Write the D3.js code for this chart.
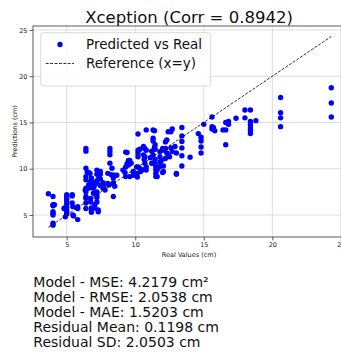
<!DOCTYPE html>
<html>
<head>
<meta charset="utf-8">
<script src="https://cdn.jsdelivr.net/npm/d3@7"></script>
<style>
  html, body { margin: 0; padding: 0; background: #fff; }
  svg { display: block; font-family: "DejaVu Sans", sans-serif; }
</style>
</head>
<body>
<svg id="chart" width="341" height="352"></svg>
<script>
// Real (measured) values, cm
const realValues = [
  3.66, 4.0, 4.0, 4.1, 4.0, 4.0, 4.0, 4.0, 4.0, 4.0,
  4.8, 4.9, 4.85,
  5.0, 5.0, 5.0, 5.0, 5.0, 5.0, 5.0, 5.0, 5.0,
  5.4, 5.4, 5.4, 5.45, 5.45, 5.5, 5.8, 5.8, 5.8,
  6.4, 6.4, 6.4, 6.4, 6.4, 6.4, 6.4, 6.4, 6.4, 6.4, 6.35, 6.4, 6.6, 6.6, 6.5, 6.6,
  6.7, 6.7, 6.75, 6.75, 6.8, 6.8, 6.8, 6.8, 6.85,
  6.95, 6.95, 6.95, 7.05, 7.05, 7.0,
  7.2, 7.2, 7.2, 7.2, 7.2, 7.2, 7.2, 7.2, 7.3, 7.3,
  7.45, 7.45, 7.45, 7.45, 7.35,
  7.65, 7.65, 7.8, 7.7,
  8.15, 8.15, 8.15, 8.15, 8.0, 8.25, 8.3, 8.0, 8.1, 8.4, 8.4, 8.5, 8.4, 8.65, 8.45,
  9.4, 9.3, 9.4, 9.5, 9.6, 9.3, 9.6, 9.85, 9.1, 9.25, 9.85, 9.3, 9.5, 9.7,
  10.1, 10.15, 10.15, 10.2, 10.2, 10.2, 10.2, 10.35, 10.4, 10.2, 10.5, 10.35,
  10.6, 10.8, 10.7, 10.6, 10.8, 10.8, 10.8, 10.7, 10.7, 10.65,
  11.1, 11.3, 11.3, 11.4, 11.3, 11.3, 11.5, 11.5, 11.5, 11.5, 11.3, 11.4, 11.45, 11.45, 11.45, 11.45, 11.2, 11.6, 11.6, 11.2,
  11.8, 11.8, 11.8, 11.75, 11.9,
  12.0, 12.05, 12.2, 12.0, 12.0, 12.2, 12.3, 12.4, 12.6, 12.7, 12.6, 12.7, 12.4, 12.5, 12.2, 12.05, 12.3,
  13.0, 13.0, 12.9, 13.0,
  13.4, 13.4, 13.4, 13.4, 13.4, 13.4,
  14.0,
  14.6, 14.8, 14.8, 14.8, 14.8,
  15.0,
  15.6, 15.6, 15.7, 15.6, 15.8,
  16.4, 16.6, 16.6, 16.8, 16.8, 16.6,
  17.35,
  18.0, 18.4, 18.0, 18.4, 18.4, 18.4, 18.4, 18.4, 18.8,
  20.6, 20.6, 20.6, 20.6,
  24.3, 24.3, 24.3
];

// Model predictions, cm (same order as realValues)
const predictedValues = [
  7.3, 7.0, 6.1, 6.1, 6.0, 5.35, 5.2, 5.0, 4.1, 3.9,
  5.7, 4.8, 5.75,
  7.2, 6.95, 6.7, 6.4, 6.1, 5.8, 5.5, 5.3, 5.1,
  7.2, 7.05, 6.3, 5.9, 5.0, 4.9, 5.9, 5.7, 4.5,
  12.2, 11.9, 10.05, 9.15, 8.8, 7.9, 7.5, 7.0, 6.8, 5.7, 7.7, 6.3, 7.9, 8.25, 9.6, 9.6,
  9.5, 8.6, 6.8, 6.4, 5.55, 5.3, 5.75, 9.0, 8.6,
  8.25, 7.9, 7.35, 6.1, 5.75, 8.1,
  9.85, 9.4, 8.7, 8.45, 7.2, 6.9, 6.4, 7.5, 5.55, 5.35,
  9.7, 9.4, 8.9, 8.2, 9.0,
  8.5, 7.9, 7.7, 8.1,
  12.2, 11.85, 11.5, 10.6, 9.5, 9.35, 10.05, 8.4, 8.25, 9.0, 8.5, 8.1, 7.0, 9.3, 9.3,
  11.75, 10.2, 10.55, 10.9, 10.9, 9.15, 9.15, 9.7, 9.85, 9.6, 9.3, 11.8, 10.4, 10.6,
  10.2, 9.5, 9.1, 12.0, 11.65, 13.75, 11.3, 10.0, 9.7, 10.2, 9.9, 12.1,
  12.4, 12.0, 11.3, 11.5, 10.2, 9.85, 14.2, 12.2, 10.6, 11.0,
  11.2, 10.6, 11.5, 12.3, 13.0, 13.3, 10.2, 9.85, 9.5, 9.15, 14.2, 14.1, 12.6, 12.1, 11.0, 10.5, 10.6, 9.15, 9.9, 11.9,
  11.85, 11.3, 10.7, 10.2, 10.9,
  9.6, 10.3, 11.1, 12.2, 12.0, 12.9, 13.1, 14.0, 14.0, 14.3, 12.25, 11.85, 11.5, 11.3, 12.2, 9.7, 11.7,
  11.7, 9.4, 12.4, 9.5,
  14.45, 13.55, 12.95, 12.25, 11.4, 10.3,
  11.25,
  13.8, 13.4, 13.0, 12.35, 11.7,
  14.8,
  15.6, 14.55, 14.45, 14.3, 14.1,
  14.2, 14.2, 15.0, 15.1, 14.8, 12.6,
  15.45,
  16.35, 16.35, 15.5, 15.1, 14.75, 14.4, 14.1, 13.8, 15.2,
  17.7, 16.05, 15.5, 14.55,
  18.75, 17.1, 15.6
];

const xTicks = [5, 10, 15, 20, 25];
const yTicks = [5, 10, 15, 20, 25];
const titleText = "Xception (Corr = 0.8942)";
const legendLabels = ["Predicted vs Real", "Reference (x=y)"];
const statLines = [
  "Model - MSE: 4.2179 cm²",
  "Model - RMSE: 2.0538 cm",
  "Model - MAE: 1.5203 cm",
  "Residual Mean: 0.1198 cm",
  "Residual SD: 2.0503 cm"
];

const svg = d3.select("#chart");

// axes box runs slightly past the right edge of the canvas
const plot = { left: 33, right: 345, top: 26, bottom: 237 };

const x = d3.scaleLinear().domain([2.54, 25.3]).range([plot.left, plot.right]);
const y = d3.scaleLinear().domain([2.62, 25.43]).range([plot.bottom, plot.top]);

const points = realValues.map((r, i) => ({ r, p: predictedValues[i] }));
const refMin = d3.min(realValues), refMax = d3.max(realValues);

// grid
const grid = svg.append("g");
grid.selectAll("line.gx").data(xTicks).join("line")
  .attr("x1", d => x(d)).attr("x2", d => x(d))
  .attr("y1", plot.top).attr("y2", plot.bottom)
  .attr("stroke", "#d3d3d3").attr("stroke-width", 0.8);
grid.selectAll("line.gy").data(yTicks).join("line")
  .attr("y1", d => y(d)).attr("y2", d => y(d))
  .attr("x1", plot.left).attr("x2", plot.right)
  .attr("stroke", "#d3d3d3").attr("stroke-width", 0.8);

// scatter
svg.append("g").selectAll("circle").data(points).join("circle")
  .attr("cx", d => x(d.r)).attr("cy", d => y(d.p))
  .attr("r", 2.7).attr("fill", "#0000ff");

// reference line y = x
svg.append("line")
  .attr("x1", x(refMin)).attr("y1", y(refMin))
  .attr("x2", x(refMax)).attr("y2", y(refMax))
  .attr("stroke", "#000").attr("stroke-width", 0.8)
  .attr("stroke-dasharray", "3,1.4");

// frame
svg.append("rect")
  .attr("x", plot.left).attr("y", plot.top)
  .attr("width", plot.right - plot.left).attr("height", plot.bottom - plot.top)
  .attr("fill", "none").attr("stroke", "#333").attr("stroke-width", 0.8);

// axes
const xAxis = svg.append("g").attr("transform", `translate(0,${plot.bottom})`)
  .call(d3.axisBottom(x).tickValues(xTicks).tickSize(3.5).tickPadding(2));
const yAxis = svg.append("g").attr("transform", `translate(${plot.left},0)`)
  .call(d3.axisLeft(y).tickValues(yTicks).tickSize(3.5).tickPadding(2));
[xAxis, yAxis].forEach(a => {
  a.select(".domain").remove();
  a.selectAll(".tick line").attr("stroke", "#333").attr("stroke-width", 0.8);
  a.selectAll(".tick text").attr("font-family", "DejaVu Sans").attr("font-size", 6.5).attr("fill", "#222");
});

// axis labels
svg.append("text")
  .attr("x", (plot.left + plot.right) / 2).attr("y", 256.5)
  .attr("text-anchor", "middle").attr("font-size", 6.5).attr("fill", "#222")
  .text("Real Values (cm)");
svg.append("text")
  .attr("transform", `translate(16.5,${(plot.top + plot.bottom) / 2}) rotate(-90)`)
  .attr("text-anchor", "middle").attr("font-size", 6.5).attr("fill", "#222")
  .text("Predictions (cm)");

// title
svg.append("text")
  .attr("x", (plot.left + plot.right) / 2).attr("y", 22.5)
  .attr("text-anchor", "middle").attr("font-size", 16.5).attr("fill", "#111")
  .text(titleText);

// legend
const lg = svg.append("g");
lg.append("rect")
  .attr("x", 40.7).attr("y", 32.7).attr("width", 170).attr("height", 53.3)
  .attr("rx", 2.5).attr("fill", "#fff").attr("fill-opacity", 0.85)
  .attr("stroke", "#d0d0d0").attr("stroke-width", 0.8);
lg.append("circle").attr("cx", 60).attr("cy", 44.5).attr("r", 2.7).attr("fill", "#0000ff");
lg.append("line").attr("x1", 45.7).attr("x2", 74).attr("y1", 63.5).attr("y2", 63.5)
  .attr("stroke", "#000").attr("stroke-width", 0.8).attr("stroke-dasharray", "3,1.4");
lg.selectAll("text").data(legendLabels).join("text")
  .attr("x", 86).attr("y", (d, i) => 49.3 + i * 19)
  .attr("font-size", 13.5).attr("fill", "#111")
  .text(d => d);

// summary statistics
svg.append("g").selectAll("text").data(statLines).join("text")
  .attr("x", 33.3).attr("y", (d, i) => 286.7 + i * 15.15)
  .attr("font-size", 14).attr("fill", "#111")
  .text(d => d);
</script>
</body>
</html>
